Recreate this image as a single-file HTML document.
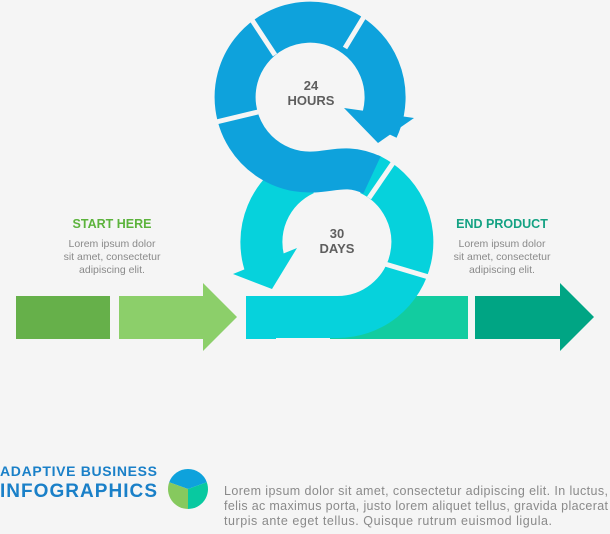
<!DOCTYPE html>
<html><head><meta charset="utf-8"><style>
html,body{margin:0;padding:0;background:#f5f5f5;}
svg{display:block;font-family:"Liberation Sans",sans-serif;}
</style></head><body>
<svg width="610" height="534" viewBox="0 0 610 534" xmlns="http://www.w3.org/2000/svg">
<rect width="610" height="534" fill="#f5f5f5"/>
<rect x="16" y="296" width="94" height="43" fill="#66b04a"/>
<polygon points="119,296 203,296 203,283 237,317 203,351 203,339 119,339" fill="#8ccf6a"/>
<rect x="330" y="296" width="138" height="43" fill="#12cca0"/>
<polygon points="475,296 560,296 560,283 594,317 560,351 560,339 475,339" fill="#00a584"/>
<g fill="none" stroke="#06d2dc" stroke-width="42">
  <path d="M 369 174 A 75 75 0 0 1 337 317 L 246 317"/>
  <path d="M 305 174 A 75 75 0 0 0 266 268"/>
</g>
<rect x="246" y="296" width="30" height="43" fill="#06d2dc"/>
<polygon points="233,274 297,248 272,289" fill="#06d2dc"/>
<g fill="none" stroke="#0ea2dc" stroke-width="41">
  <path d="M 378 129 A 75 75 0 1 0 297 171 C 327 176 342 161 372 175"/>
</g>
<polygon points="344,108 414,118 378,143" fill="#0ea2dc"/>
<g stroke="#f5f5f5" stroke-width="5">
  <line x1="252" y1="20" x2="275" y2="55"/>
  <line x1="365" y1="15" x2="345" y2="48"/>
  <line x1="212" y1="123" x2="258" y2="112"/>
  <line x1="393" y1="163" x2="369" y2="198"/>
  <line x1="385" y1="264" x2="432" y2="278"/>
</g>
<text x="311" y="90" font-size="13" font-weight="bold" fill="#5e5e5e" text-anchor="middle">24</text>
<text x="311" y="105" font-size="13" font-weight="bold" fill="#5e5e5e" text-anchor="middle">HOURS</text>
<text x="337" y="238" font-size="13" font-weight="bold" fill="#5e5e5e" text-anchor="middle">30</text>
<text x="337" y="253" font-size="13" font-weight="bold" fill="#5e5e5e" text-anchor="middle">DAYS</text>
<text x="112" y="228" font-size="12.5" font-weight="bold" fill="#5cb33c" text-anchor="middle">START HERE</text>
<g font-size="10.5" fill="#8a8a8a" text-anchor="middle">
<text x="112" y="247">Lorem ipsum dolor</text>
<text x="112" y="260">sit amet, consectetur</text>
<text x="112" y="273">adipiscing elit.</text>
<text x="502" y="247">Lorem ipsum dolor</text>
<text x="502" y="260">sit amet, consectetur</text>
<text x="502" y="273">adipiscing elit.</text>
</g>
<text x="502" y="228" font-size="12.5" font-weight="bold" fill="#14a283" text-anchor="middle">END PRODUCT</text>
<text x="0" y="476" font-size="14" font-weight="bold" fill="#1a80c8" textLength="157">ADAPTIVE BUSINESS</text>
<text x="0" y="497" font-size="19" font-weight="bold" fill="#1a80c8" textLength="157">INFOGRAPHICS</text>
<g transform="translate(188,489)">
  <path d="M0 0 L-18.8 -6.8 A20 20 0 0 1 18.8 -6.8 Z" fill="#0ea2dc"/>
  <path d="M0 0 L0 20 A20 20 0 0 1 -18.8 -6.8 Z" fill="#86c95e"/>
  <path d="M0 0 L18.8 -6.8 A20 20 0 0 1 0 20 Z" fill="#08c9a0"/>
</g>
<g font-size="12.5" fill="#8a8a8a">
<text x="224" y="495" textLength="384">Lorem ipsum dolor sit amet, consectetur adipiscing elit. In luctus,</text>
<text x="224" y="510" textLength="384">felis ac maximus porta, justo lorem aliquet tellus, gravida placerat</text>
<text x="224" y="525" textLength="328">turpis ante eget tellus. Quisque rutrum euismod ligula.</text>
</g>
</svg>
</body></html>
